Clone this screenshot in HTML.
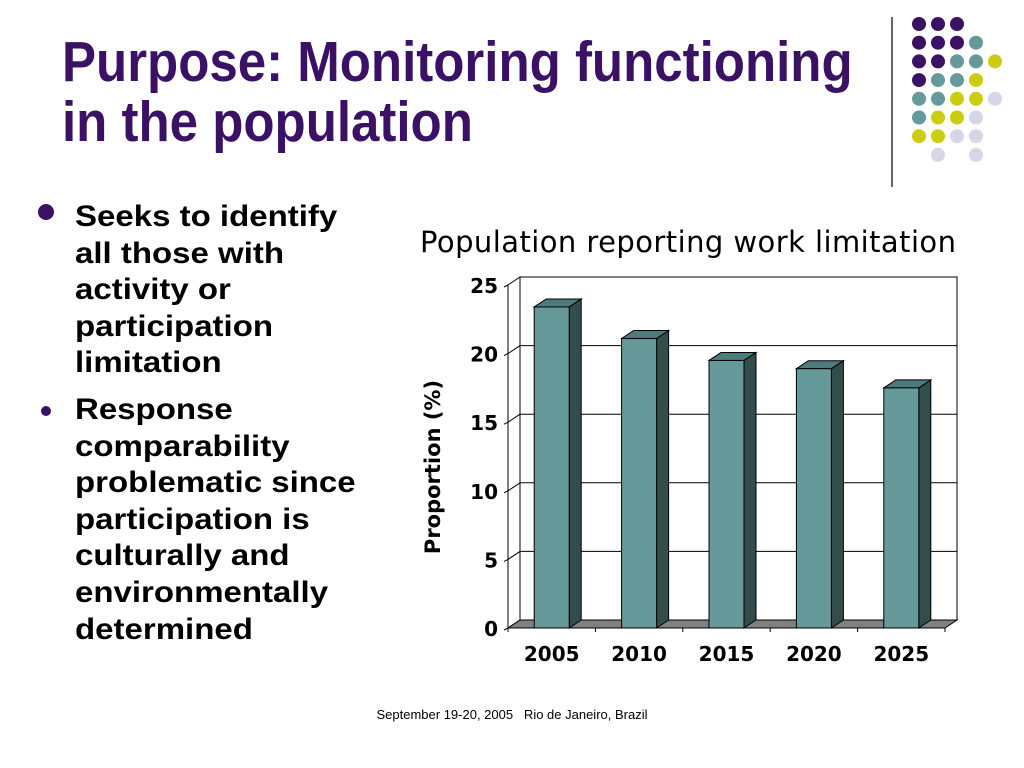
<!DOCTYPE html>
<html><head><meta charset="utf-8"><style>
body{margin:0;width:1024px;height:768px;background:#fff;position:relative;overflow:hidden;font-family:"Liberation Sans",sans-serif}
.title{position:absolute;left:62px;top:32px;font-size:57px;font-weight:bold;color:#3b1166;line-height:60px;transform:scaleX(0.895);transform-origin:0 0;white-space:nowrap}
ul{position:absolute;left:30px;top:199px;margin:0;padding:0;list-style:none;width:400px}
li{position:relative;padding-left:45px;font-size:30px;font-weight:bold;line-height:36.6px;color:#000;white-space:nowrap}
li.l2{margin-top:10px}
li:before{content:"";position:absolute;left:10px;width:12px;height:12px;border-radius:50%;background:#3b1166}
li.l1:before{top:5px;width:16px;height:16px;left:8px}
li.l2:before{top:14px;left:11px;width:10px;height:10px}
.t{display:inline-block;transform:scaleX(1.1);transform-origin:0 0}
.foot{position:absolute;left:0;width:1024px;top:707px;text-align:center;font-size:13px}
</style></head><body>
<div class="title">Purpose: Monitoring functioning<br>in the population</div>
<ul>
<li class="l1"><span class="t">Seeks to identify<br>all those with<br>activity or<br>participation<br>limitation</span></li>
<li class="l2"><span class="t">Response<br>comparability<br>problematic since<br>participation is<br>culturally and<br>environmentally<br>determined</span></li>
</ul>
<div class="foot">September 19-20, 2005&nbsp;&nbsp;&nbsp;Rio de Janeiro, Brazil</div>
<svg id="deco" width="1024" height="768" style="position:absolute;left:0;top:0">
<line x1="892" y1="17" x2="892" y2="187" stroke="#333" stroke-width="1.5"/>
</svg>
<svg id="chart" width="1024" height="768" style="position:absolute;left:0;top:0"></svg>
<script>
const categories=["2005","2010","2015","2020","2025"];
const values=[23.4,21.1,19.5,18.9,17.5];
const yTicks=[0,5,10,15,20,25];
const NS="http://www.w3.org/2000/svg";
const deco=document.getElementById('deco');
const dotRows=[["P","P","P"],["P","P","P","T"],["P","P","T","T","Y"],["P","T","T","Y"],["T","T","Y","Y","L"],["T","Y","Y","L"],["Y","Y","L","L"],["","L","","L"]];
const dc={P:"#3b1166",T:"#669999",Y:"#cccc11",L:"#d6d6e8"};
dotRows.forEach((r,ri)=>r.forEach((c,ci)=>{if(!c)return;const e=document.createElementNS(NS,'circle');e.setAttribute('cx',919+ci*19);e.setAttribute('cy',24+ri*18.7);e.setAttribute('r',7);e.setAttribute('fill',dc[c]);


deco.appendChild(e);}));
const svg=document.getElementById('chart');
function mk(t,a){const e=document.createElementNS(NS,t);for(const k in a)e.setAttribute(k,a[k]);svg.appendChild(e);return e;}
const DX=12,DY=-8,x0=508,x1=945,y0=628,y25=285;
const ymax=25;
function yF(v){return y0-(v/ymax)*(y0-y25);}
const bw=(x1-x0)/categories.length;
function xC(i){return x0+bw*(i+0.5);}
let e=mk('rect',{x:x0+DX,y:y25+DY,width:x1-x0,height:y0-y25,fill:'#fff',stroke:'#000','stroke-width':1});

mk('polygon',{points:`${x0},${y0} ${x0+DX},${y0+DY} ${x0+DX},${y25+DY} ${x0},${y25}`,fill:'#fff',stroke:'#000'});
yTicks.forEach(t=>{if(t>0&&t<ymax){e=mk('line',{x1:x0+DX,x2:x1+DX,y1:yF(t)+DY,y2:yF(t)+DY,stroke:'#000','stroke-width':1});

mk('line',{x1:x0,x2:x0+DX,y1:yF(t),y2:yF(t)+DY,stroke:'#000'});}
mk('line',{x1:x0-4,x2:x0,y1:yF(t)+2,y2:yF(t),stroke:'#000'});
e=mk('text',{x:x0-10,y:yF(t)+8,'text-anchor':'end','font-size':20,'font-weight':'bold','font-family':'DejaVu Sans,Liberation Sans,sans-serif'});e.textContent=t;
});
e=mk('polygon',{points:`${x0},${y0} ${x0+DX},${y0+DY} ${x1+DX},${y0+DY} ${x1},${y0}`,fill:'#808080',stroke:'#000'});

mk('line',{x1:x0,x2:x0,y1:y0,y2:y25,stroke:'#000'});
mk('line',{x1:x0,x2:x1,y1:y0,y2:y0,stroke:'#000'});
const barW=35;
categories.forEach((c,i)=>{const xl=xC(i)-barW/2,yt=yF(values[i]);
const g=document.createElementNS(NS,'g');svg.appendChild(g);


const p=(t,a)=>{const q=document.createElementNS(NS,t);for(const k in a)q.setAttribute(k,a[k]);g.appendChild(q);};
p('polygon',{points:`${xl+barW},${y0} ${xl+barW+DX},${y0+DY} ${xl+barW+DX},${yt+DY} ${xl+barW},${yt}`,fill:'#334d4d',stroke:'#000'});
p('polygon',{points:`${xl},${yt} ${xl+DX},${yt+DY} ${xl+barW+DX},${yt+DY} ${xl+barW},${yt}`,fill:'#4d7a7a',stroke:'#000'});
p('rect',{x:xl,y:yt,width:barW,height:y0-yt,fill:'#669999',stroke:'#000'});
e=mk('text',{x:xC(i),y:661,'text-anchor':'middle','font-size':20,'font-weight':'bold','font-family':'DejaVu Sans,Liberation Sans,sans-serif'});e.textContent=c;

});
for(let i=0;i<=categories.length;i++){const x=x0+bw*i;mk('line',{x1:x,x2:x,y1:y0,y2:y0+4,stroke:'#000'});}
e=mk('text',{x:688,y:252,'text-anchor':'middle','font-size':29,'font-family':'DejaVu Sans,Liberation Sans,sans-serif','textLength':536});e.textContent='Population reporting work limitation';

e=mk('text',{x:0,y:0,'text-anchor':'middle','font-size':21,'font-weight':'bold','font-family':'DejaVu Sans,Liberation Sans,sans-serif',transform:'translate(440,467) rotate(-90)'});e.textContent='Proportion (%)';

</script>
</body></html>
